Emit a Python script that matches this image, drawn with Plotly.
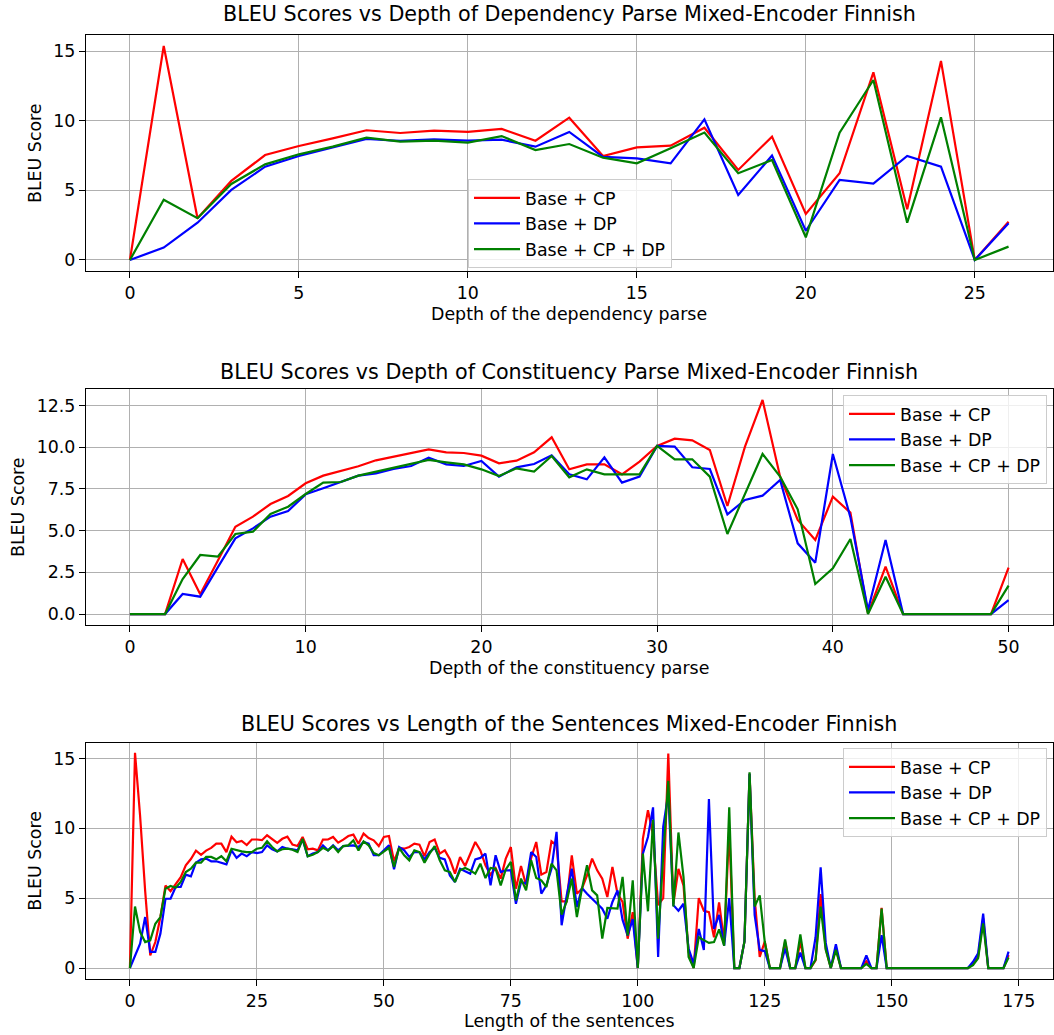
import plotly.graph_objects as go

# ---------------- data ----------------
dep_x = list(range(0, 27))
dep_cp = [0, 15.37, 3.0, 5.68, 7.54, 8.19, 8.74, 9.32, 9.12, 9.29, 9.2, 9.41, 8.57, 10.22,
          7.47, 8.09, 8.21, 9.5, 6.47, 8.86, 3.3, 6.23, 13.48, 3.64, 14.3, 0, 2.75]
dep_dp = [0, 0.89, 2.68, 5.03, 6.7, 7.47, 8.09, 8.69, 8.55, 8.67, 8.57, 8.64, 8.14, 9.2,
          7.4, 7.3, 6.94, 10.1, 4.67, 7.5, 2.1, 5.75, 5.48, 7.47, 6.7, 0, 2.63]
dep_cpdp = [0, 4.33, 3.0, 5.46, 6.87, 7.59, 8.14, 8.79, 8.5, 8.57, 8.43, 8.9, 7.9, 8.33,
            7.35, 6.94, 8.02, 9.15, 6.23, 7.18, 1.63, 9.15, 12.93, 2.68, 10.25, 0, 0.96]

con_x = list(range(0, 51))
con_cp = [0, 0, 0, 3.3, 1.18, 3.2, 5.24, 5.84, 6.6, 7.08,
          7.84, 8.3, 8.56, 8.86, 9.22, 9.44, 9.68, 9.88, 9.7, 9.66,
          9.5, 9.04, 9.2, 9.7, 10.6, 8.68, 8.98, 8.98, 8.38, 9.14,
          10.08, 10.52, 10.42, 9.84, 6.48, 10.04, 12.84, 8.24, 5.64, 4.44,
          7.04, 6.08, 0.04, 2.84, 0, 0, 0, 0, 0, 0,
          2.78]
con_dp = [0, 0, 0, 1.2, 1.04, 2.8, 4.54, 5.14, 5.84, 6.18,
          7.18, 7.54, 7.94, 8.3, 8.44, 8.7, 8.88, 9.38, 8.98, 8.88,
          9.18, 8.24, 8.8, 9.0, 9.52, 8.38, 8.08, 9.4, 7.88, 8.24,
          10.08, 10.04, 8.8, 8.7, 5.98, 6.84, 7.1, 8.04, 4.24, 3.08,
          9.6, 5.8, 0.24, 4.44, 0, 0, 0, 0, 0, 0,
          0.84]
con_cpdp = [0, 0, 0, 2.1, 3.54, 3.44, 4.8, 4.94, 6.0, 6.44,
            7.2, 7.88, 7.92, 8.3, 8.54, 8.74, 8.98, 9.24, 9.1, 8.98,
            8.68, 8.28, 8.74, 8.54, 9.48, 8.2, 8.68, 8.38, 8.38, 8.38,
            10.08, 9.28, 9.28, 8.24, 4.8, 7.24, 9.6, 8.24, 6.28, 1.8,
            2.74, 4.5, 0, 2.24, 0, 0, 0, 0, 0, 0,
            1.7]

len_x = list(range(0, 174))
len_cp = [0, 15.4, 10.9, 5.5, 0.9, 1.86, 3.65, 5.9, 5.5, 6.04,
          6.5, 7.35, 7.8, 8.4, 8.1, 8.4, 8.6, 8.9, 8.9, 8.3,
          9.4, 9.0, 9.1, 8.8, 9.2, 9.2, 9.15, 9.5, 9.2, 8.95,
          9.25, 9.4, 8.83, 8.73, 9.38, 8.5, 8.54, 8.42, 9.19, 9.2,
          9.38, 8.97, 9.19, 9.45, 9.55, 8.9, 9.62, 9.3, 9.14, 8.73,
          9.38, 9.45, 7.64, 8.6, 8.54, 8.66, 8.9, 8.83, 8.0, 9.02,
          9.2, 8.19, 8.42, 7.78, 6.75, 7.95, 7.3, 8.19, 9.02, 8.42,
          7.35, 6.68, 7.16, 6.4, 7.83, 8.66, 5.68, 7.3, 5.92, 7.88,
          9.02, 6.68, 6.87, 9.07, 8.78, 4.77, 4.77, 8.07, 5.32, 5.68,
          6.63, 7.83, 6.99, 6.4, 5.08, 7.23, 5.32, 4.73, 2.1, 4.0,
          0, 9.26, 11.29, 9.5, 4.5, 5.0, 15.35, 4.6, 7.1, 5.9,
          1.15, 0, 5.0, 4.1, 4.0, 2.2, 4.7, 1.9, 10.0, 0,
          0, 1.9, 13.9, 5.0, 0.8, 1.9, 0, 0, 0, 1.9,
          0, 0, 1.9, 0, 0, 0.55, 5.3, 1.4, 0, 1.4,
          0, 0, 0, 0, 0, 0.5, 0, 0, 4.3, 0,
          0, 0, 0, 0, 0, 0, 0, 0, 0, 0,
          0, 0, 0, 0, 0, 0, 0.3, 0.8, 3.55, 0,
          0, 0, 0, 0.93]
len_dp = [0, 0.9, 1.74, 3.65, 1.15, 1.15, 2.46, 4.96, 4.96, 5.8,
          5.8, 6.68, 6.56, 7.54, 7.78, 7.83, 7.64, 7.64, 7.54, 7.42,
          8.42, 7.88, 8.19, 8.0, 8.3, 8.23, 8.3, 8.78, 8.5, 8.35,
          8.66, 8.54, 8.5, 8.42, 9.2, 8.0, 8.19, 8.3, 8.78, 8.42,
          8.78, 8.42, 8.73, 8.73, 8.78, 8.66, 9.02, 8.9, 8.07, 8.07,
          8.42, 8.78, 7.06, 8.66, 8.42, 7.95, 8.3, 8.3, 7.78, 8.3,
          8.6, 7.88, 7.78, 6.63, 6.16, 7.11, 6.92, 6.75, 7.78, 7.88,
          8.19, 5.92, 8.07, 6.87, 6.99, 7.0, 4.6, 6.16, 6.04, 8.3,
          7.95, 5.32, 5.92, 7.11, 9.74, 3.06, 5.2, 7.11, 4.37, 5.73,
          5.32, 4.96, 4.6, 4.25, 3.53, 4.73, 5.56, 3.44, 2.34, 3.5,
          0, 8.19, 9.38, 11.5, 0.8, 10.1, 12.5, 4.5, 4.1, 4.6,
          1.4, 0.3, 2.8, 1.3, 12.1, 2.8, 3.8, 1.6, 5.0, 0,
          0, 1.9, 13.9, 3.8, 1.3, 1.2, 0, 0, 0, 1.4,
          0, 0, 1.1, 0, 0, 2.2, 7.2, 1.8, 0, 1.7,
          0, 0, 0, 0, 0, 0.9, 0, 0, 2.36, 0,
          0, 0, 0, 0, 0, 0, 0, 0, 0, 0,
          0, 0, 0, 0, 0, 0, 0.45, 1.05, 3.9, 0,
          0, 0, 0, 1.17]
len_cpdp = [0, 4.4, 2.58, 1.86, 1.98, 3.17, 3.65, 5.68, 5.87, 5.75,
            6.16, 6.87, 7.11, 7.54, 7.54, 7.95, 7.95, 7.78, 8.0, 7.64,
            8.54, 8.42, 8.35, 8.3, 8.3, 8.54, 8.6, 9.07, 8.66, 8.35,
            8.5, 8.54, 8.47, 8.3, 9.25, 8.0, 8.11, 8.3, 8.6, 8.42,
            8.73, 8.3, 8.73, 8.78, 9.14, 8.42, 9.07, 8.78, 8.23, 8.07,
            8.35, 8.6, 7.23, 8.6, 8.07, 7.71, 8.42, 8.3, 7.54, 8.19,
            8.73, 7.71, 6.99, 6.87, 6.16, 6.99, 7.16, 6.99, 6.75, 7.47,
            6.44, 7.16, 7.11, 5.92, 7.06, 7.59, 4.84, 6.4, 5.56, 7.71,
            6.44, 6.28, 5.8, 7.47, 6.99, 3.82, 4.77, 6.4, 3.65, 5.68,
            7.35, 5.56, 5.2, 2.1, 4.3, 4.25, 4.25, 6.52, 2.34, 6.28,
            0, 8.19, 4.06, 10.6, 2.1, 8.0, 13.4, 4.4, 9.7, 6.5,
            0.8, 0, 2.2, 2.0, 1.8, 1.86, 2.77, 1.6, 11.5, 0,
            0, 1.9, 14.0, 4.4, 5.2, 1.86, 0, 0, 0, 2.05,
            0, 0, 2.4, 0, 0, 0.6, 4.4, 1.3, 0, 1.3,
            0, 0, 0, 0, 0, 0.3, 0, 0, 4.25, 0,
            0, 0, 0, 0, 0, 0, 0, 0, 0, 0,
            0, 0, 0, 0, 0, 0, 0.2, 0.7, 3.2, 0,
            0, 0, 0, 0.76]

series_names = ["Base + CP", "Base + DP", "Base + CP + DP"]
series_colors = ["#ff0000", "#0000ff", "#008000"]

titles = ["BLEU Scores vs Depth of Dependency Parse Mixed-Encoder Finnish",
          "BLEU Scores vs Depth of Constituency Parse Mixed-Encoder Finnish",
          "BLEU Scores vs Length of the Sentences Mixed-Encoder Finnish"]
xlabels = ["Depth of the dependency parse",
           "Depth of the constituency parse",
           "Length of the sentences"]
ylabel = "BLEU Score"

dep_xticks = [0, 5, 10, 15, 20, 25]
dep_yticks = [0, 5, 10, 15]
con_xticks = [0, 10, 20, 30, 40, 50]
con_yticks = [0, 2.5, 5, 7.5, 10, 12.5]
len_xticks = [0, 25, 50, 75, 100, 125, 150, 175]
len_yticks = [0, 5, 10, 15]

# ---------------- layout helpers ----------------
W, H = 1054, 1035
FONT = "DejaVu Sans"
TXT = 17.4
TITLE = 20.7


def px(x):
    return x / W


def py(y):
    return 1 - y / H


# plot areas in pixels: (left, top, right, bottom)
areas = [(86, 35.3, 1052.5, 270.7),
         (86, 389.3, 1052.5, 624.7),
         (86, 742.5, 1052.5, 978.8)]

panels = [
    (dep_x, [dep_cp, dep_dp, dep_cpdp], dep_xticks, dep_yticks, [-1.3, 27.3], [-0.77, 16.14], None),
    (con_x, [con_cp, con_dp, con_cpdp], con_xticks, con_yticks, [-2.5, 52.5], [-0.64, 13.48], ".1f"),
    (len_x, [len_cp, len_dp, len_cpdp], len_xticks, len_yticks, [-8.65, 181.65], [-0.77, 16.14], None),
]

legend_pos = [(468, 179), (843, 395), (843, 748)]
title_y = [14, 372, 724]
xlabel_y = [314, 668, 1021]
ylabel_x = [35, 18, 35]

fig = go.Figure()
layout = dict(
    width=W, height=H,
    margin=dict(l=0, r=0, t=0, b=0),
    paper_bgcolor="white", plot_bgcolor="white",
    font=dict(family=FONT, size=TXT, color="black"),
    showlegend=True,
    annotations=[],
)

for i, (xs, ys, xt, yt, xr, yr, yfmt) in enumerate(panels):
    n = "" if i == 0 else str(i + 1)
    xa, ya = "x" + n, "y" + n
    leg = "legend" if i == 0 else "legend" + str(i + 1)
    for k in range(3):
        fig.add_trace(go.Scatter(
            x=xs, y=ys[k], mode="lines", name=series_names[k],
            line=dict(color=series_colors[k], width=2.2),
            xaxis=xa, yaxis=ya, legend=leg, legendgroup=f"g{i}{k}",
        ))
    l, t, r, b = areas[i]
    common = dict(showline=True, linecolor="black", linewidth=1.3, mirror=True,
                  showgrid=True, gridcolor="#b0b0b0", gridwidth=1.2,
                  zeroline=False, ticks="outside", ticklen=6, tickwidth=1.3,
                  tickcolor="black", tickfont=dict(family=FONT, size=TXT, color="black"))
    layout["xaxis" + n] = dict(domain=[px(l), px(r)], range=xr, tickvals=xt,
                               anchor=ya, **common)
    yax = dict(domain=[py(b), py(t)], range=yr, tickvals=yt, anchor=xa, **common)
    if yfmt:
        yax["tickformat"] = yfmt
    layout["yaxis" + n] = yax
    lx, ly = legend_pos[i]
    layout[leg] = dict(x=px(lx), y=py(ly), xanchor="left", yanchor="top",
                       bgcolor="rgba(255,255,255,0.8)", bordercolor="#cccccc",
                       borderwidth=1, font=dict(family=FONT, size=TXT, color="black"),
                       tracegroupgap=0, traceorder="grouped", itemwidth=46)
    cx = (l + r) / 2
    layout["annotations"] += [
        dict(text=titles[i], x=px(cx), y=py(title_y[i]), xref="paper", yref="paper",
             xanchor="center", yanchor="middle", showarrow=False,
             font=dict(family=FONT, size=TITLE, color="black")),
        dict(text=xlabels[i], x=px(cx), y=py(xlabel_y[i]), xref="paper", yref="paper",
             xanchor="center", yanchor="middle", showarrow=False,
             font=dict(family=FONT, size=TXT, color="black")),
        dict(text=ylabel, x=px(ylabel_x[i]), y=py((t + b) / 2), xref="paper", yref="paper",
             xanchor="center", yanchor="middle", showarrow=False, textangle=-90,
             font=dict(family=FONT, size=TXT, color="black")),
    ]

fig.update_layout(**layout)
fig.write_html("out.html", config={"displayModeBar": False},
               post_script="document.body.style.margin='0px';document.body.style.overflow='hidden';")
